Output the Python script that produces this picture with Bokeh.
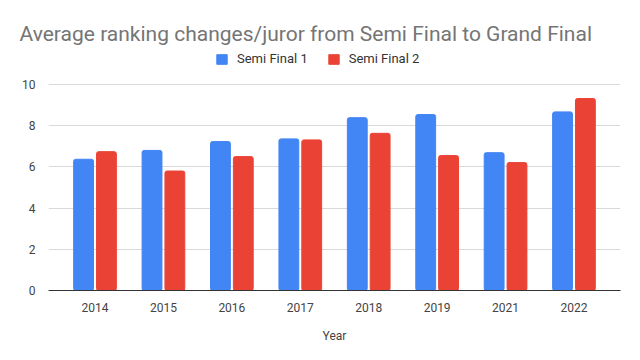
from bokeh.plotting import figure
from bokeh.models import ColumnDataSource, Legend, FactorRange
from bokeh.transform import dodge
from bokeh.embed import file_html
from bokeh.resources import INLINE

years = ["2014", "2015", "2016", "2017", "2018", "2019", "2021", "2022"]
semi1 = [6.37, 6.80, 7.23, 7.36, 8.39, 8.54, 6.69, 8.67]
semi2 = [6.74, 5.80, 6.50, 7.31, 7.63, 6.55, 6.21, 9.32]
yticks = [0, 2, 4, 6, 8, 10]

BLUE = "#4285F4"
RED = "#EA4335"
FONT = "Roboto"

FRAME_H = 245
PX_PER_UNIT = 20.6

src = ColumnDataSource(dict(year=years, s1=semi1, s2=semi2))

p = figure(
    frame_width=572, frame_height=FRAME_H,
    x_range=FactorRange(*years, range_padding=0.18, range_padding_units="absolute"),
    y_range=(0, FRAME_H / PX_PER_UNIT),
    output_backend="svg", toolbar_location=None,
    min_border_left=48, min_border_right=10, min_border_top=45, min_border_bottom=55,
)

p.title.text = "Average ranking changes/juror from Semi Final to Grand Final"
p.title.text_font = FONT
p.title.text_font_size = "21px"
p.title.text_font_style = "normal"
p.title.text_color = "#757575"
p.title.offset = -29
p.title.standoff = 0
p.title.padding = dict(top=10, bottom=0, left=0, right=0)

r1 = p.vbar(x=dodge("year", -0.167, range=p.x_range), top="s1", width=0.29, source=src,
            fill_color=BLUE, line_color=BLUE, line_width=1, border_radius=2)
r2 = p.vbar(x=dodge("year", 0.167, range=p.x_range), top="s2", width=0.29, source=src,
            fill_color=RED, line_color=RED, line_width=1, border_radius=2)

legend = Legend(items=[("Semi Final 1", [r1]), ("Semi Final 2", [r2])],
                orientation="horizontal", location=(167, 224),
                label_text_font=FONT, label_text_font_size="13px", label_text_color="#333333",
                glyph_width=13, glyph_height=12, label_standoff=9, spacing=19,
                padding=4, margin=0,
                border_line_color=None, background_fill_alpha=0)
p.add_layout(legend, "center")

p.outline_line_color = None
p.xgrid.grid_line_color = None
p.ygrid.grid_line_color = "#d9d9d9"
p.ygrid.grid_line_width = 1

p.yaxis.ticker = yticks
p.yaxis.axis_line_color = None
p.yaxis.major_tick_line_color = None
p.yaxis.minor_tick_line_color = None
p.yaxis.major_label_text_font = FONT
p.yaxis.major_label_text_font_size = "12px"
p.yaxis.major_label_text_color = "#444444"
p.yaxis.major_label_standoff = 7

p.xaxis.axis_line_color = "#333333"
p.xaxis.axis_line_width = 1
p.xaxis.major_tick_line_color = None
p.xaxis.minor_tick_line_color = None
p.xaxis.major_label_text_font = FONT
p.xaxis.major_label_text_font_size = "12px"
p.xaxis.major_label_text_color = "#444444"
p.xaxis.major_label_standoff = 6
p.xaxis.axis_label = "Year"
p.xaxis.axis_label_text_font = FONT
p.xaxis.axis_label_text_font_size = "12px"
p.xaxis.axis_label_text_font_style = "normal"
p.xaxis.axis_label_text_color = "#444444"
p.xaxis.axis_label_standoff = 14

open("out.html", "w").write(file_html(p, INLINE))
